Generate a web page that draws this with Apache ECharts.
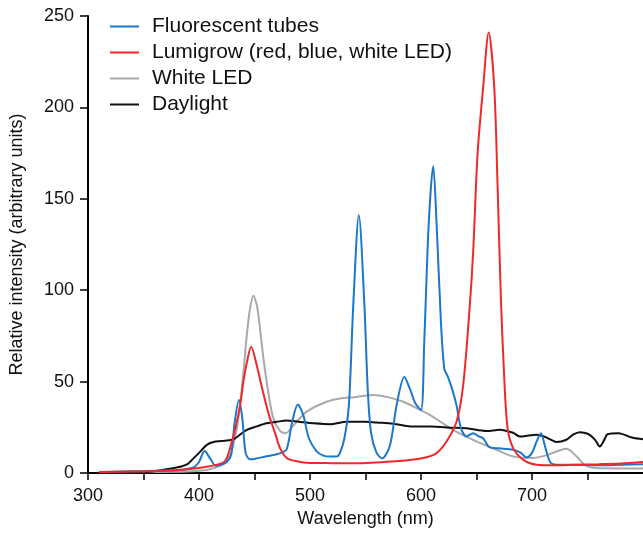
<!DOCTYPE html>
<html>
<head>
<meta charset="utf-8">
<script src="https://cdn.jsdelivr.net/npm/echarts@6/dist/echarts.min.js"></script>
<style>html,body{margin:0;padding:0;background:#fff;}#c{width:643px;height:533px;}</style>
</head>
<body>
<div id="c"></div>
<script>
const seriesNames = ['Fluorescent tubes', 'Lumigrow (red, blue, white LED)', 'White LED', 'Daylight'];
const xTicks = [300, 400, 500, 600, 700];

const fluorWl = [310,330,350,370,385,395,400,405,410,415,420,425,429,432,436,439,442,446,452,460,468,474,479,484,489,494,499,506,512,518,524,527,531,535,539,544,549,552,555,560,565,572,578,585,590,595,600,603,607,611,614,618,621,624,628,632,636,641,647,652,656,662,670,683,690,695,700,704,708,712,717,725,740,760,780,800];
const fluorVal = [0.5,0.8,1,1.3,1.8,3,6,12,8,4,4.5,6,10,27,40,30,11,7.5,8,9,10,11,13,28,37.5,31.5,19,11.8,9.5,9,9,11,19,37,92,141,92,46,22,11,8,15,37,52.5,46,38,34.5,73,137,168,137,82,57,53,46,37,24.5,20,21.8,20,19,14,13.5,12.7,11,8.5,11,17,21.8,14,5.4,4.5,4.5,4.2,4.5,4.8];

const lumiWl = [310,340,370,400,419,424,428,433,437,440,443,447,452,457,463,469,473,479,488,500,520,540,560,580,602,614,623,632,638,644,647,651,656,661,666,669,672,675,678,683,692,704,720,740,760,780,800];
const lumiVal = [0.5,0.8,1.2,2.7,5,7,13.6,25,37,50,60,69,59,46,31.8,21,13.6,8.2,6.4,5.5,5.4,5.3,5.8,6.5,8.2,10.9,17.2,28,48,92,121,175,211,241,211,157,95,52,24.5,13.6,7.3,4.5,4.2,4.5,4.8,5.2,6];

const ledWl = [310,350,390,405,415,422,428,432,436,440,443,446,449,452,454,458,463,467,473,478,485,497,515,527,540,557,570,584,596,608,620,629,640,653,668,683,700,712,722,731,740,748,758,780,800];
const ledVal = [0.3,0.5,0.8,1.5,3,5,10,18,32,55,75,90,97,92,84,63,42,30,23,21.8,26,33.6,39,40.8,41.5,42.7,41.5,39,35.5,31.8,27,23.6,20,16.5,12.7,9.1,8.2,9.5,11.8,13.2,9.1,4.2,2.7,2.5,2.5];

const dayWl = [310,340,360,375,384,390,395,400,407,413,420,430,436,443,452,461,470,479,490,503,518,533,550,560,575,593,610,623,641,659,671,677,683,689,697,704,711,716,722,731,737,743,747,752,757,761,765,768,778,790,800];
const dayVal = [0,0.3,1,2.5,3.6,5,8,11,15.4,17,17.5,18.2,20.5,23.6,25.5,27.2,28,28.7,28,27.2,26.7,28,28,27.6,27,25.4,25.5,24.9,24.5,23,23.6,23,22,20,20.5,20.9,20,18.5,16.9,18.2,21,22.3,22,20.9,18,14.5,18,21.2,21.8,19.4,18.5];

const colors = {fluor:'#1c77c9', lumi:'#f0282c', led:'#a9a9a9', day:'#111111'};
const pair = (w, v) => w.map((x, i) => [x, v[i]]);
const FONT = 'Liberation Sans, Arial, Helvetica, sans-serif';

function mk(name, data, color) {
  return {
    name, type: 'line', data, symbol: 'none', showSymbol: false,
    smooth: 0.3,
    lineStyle: {color, width: 2}, itemStyle: {color}
  };
}

const chart = echarts.init(document.getElementById('c'));
chart.setOption({
  animation: false,
  backgroundColor: '#fff',
  grid: {left: 87, right: 0, top: 16, bottom: 51, containLabel: false},
  legend: {
    orient: 'vertical', left: 105, top: 11,
    data: seriesNames,
    itemWidth: 29, itemHeight: 10, itemGap: 5,
    icon: 'path://M0,4 L29,4 L29,6 L0,6 Z',
    textStyle: {fontFamily: FONT, fontSize: 21, color: '#111', padding: [0,0,0,8], lineHeight: 18}
  },
  xAxis: {
    type: 'value', min: 300, max: 800, interval: 50,
    name: 'Wavelength (nm)', nameLocation: 'middle', nameGap: 37,
    nameTextStyle: {fontFamily: FONT, fontSize: 18, color: '#111'},
    axisLine: {show: true, onZero: false, lineStyle: {color: '#000', width: 2}},
    axisTick: {show: true, inside: false, length: 7, lineStyle: {color: '#000', width: 1.5}},
    axisLabel: {
      fontFamily: FONT, fontSize: 18, color: '#111', margin: 14, showMaxLabel: false,
      formatter: v => (xTicks.indexOf(v) >= 0 ? String(v) : '')
    },
    splitLine: {show: false}
  },
  yAxis: {
    type: 'value', min: 0, max: 250, interval: 50,
    name: 'Relative intensity (arbitrary units)', nameLocation: 'middle', nameGap: 62,
    nameTextStyle: {fontFamily: FONT, fontSize: 18, color: '#111'},
    axisLine: {show: true, lineStyle: {color: '#000', width: 2}},
    axisTick: {show: true, inside: false, length: 8, lineStyle: {color: '#000', width: 1.5}},
    axisLabel: {fontFamily: FONT, fontSize: 18, color: '#111', margin: 14},
    splitLine: {show: false}
  },
  series: [
    mk('White LED', pair(ledWl, ledVal), colors.led),
    mk('Daylight', pair(dayWl, dayVal), colors.day),
    mk('Fluorescent tubes', pair(fluorWl, fluorVal), colors.fluor),
    mk('Lumigrow (red, blue, white LED)', pair(lumiWl, lumiVal), colors.lumi)
  ]
});
</script>
</body>
</html>
